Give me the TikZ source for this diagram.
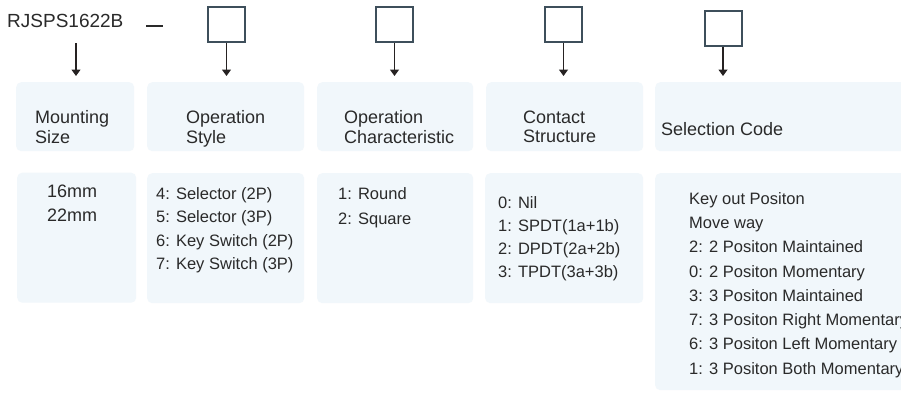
\documentclass[tikz,border=0pt]{standalone}
\usepackage{fontspec}
\setmainfont{Liberation Sans}
\usetikzlibrary{arrows.meta}
\definecolor{boxfill}{HTML}{F1F7FB}
\definecolor{sqcol}{HTML}{3E4F5B}
\definecolor{txt}{HTML}{2A2A2A}
\definecolor{arrcol}{HTML}{262222}
\tikzset{
  panel/.style={fill=boxfill, draw=none, rounded corners=5pt, anchor=north west, inner sep=0pt},
  sqbox/.style={draw=sqcol, line width=2pt, minimum width=37pt, minimum height=35pt, inner sep=0pt},
  arr/.style={draw=arrcol, line width=1.3pt, -{Triangle[width=9pt,length=6.5pt]}, shorten >=6pt},
  head/.style={anchor=north west, inner sep=0pt, align=left, text=txt, font=\fontsize{18}{19.5}\selectfont},
  body/.style={anchor=north west, inner sep=0pt, align=left, text=txt, font=\fontsize{16.5}{23.5}\selectfont},
}
\begin{document}
\begin{tikzpicture}[x=1pt,y=-1pt]
\clip (0,0) rectangle (901,399);
\fill[white] (0,0) rectangle (901,399);

% code line
\node[anchor=north west, inner sep=0pt, text=txt, font=\fontsize{19}{20}\selectfont] (code) at (7,14.5) {RJSPS1622B};
\draw[line width=2pt, draw=txt] (146,26) -- (163,26);
\node[sqbox] (s1) at (226.5,24.5) {};
\node[sqbox] (s2) at (394.5,24.5) {};
\node[sqbox] (s3) at (563.5,24.5) {};
\node[sqbox] (s4) at (723,28) {};

% header panels
\node[panel, minimum width=118pt, minimum height=69pt] (h1) at (16,82) {};
\node[panel, minimum width=157pt, minimum height=69pt] (h2) at (147,82) {};
\node[panel, minimum width=156pt, minimum height=69pt] (h3) at (317,82) {};
\node[panel, minimum width=157pt, minimum height=69pt] (h4) at (486,82) {};
\node[panel, minimum width=260pt, minimum height=69pt] (h5) at (655,82) {};

% body panels
\node[panel, minimum width=119pt, minimum height=130pt] (b1) at (17,172.5) {};
\node[panel, minimum width=157pt, minimum height=130pt] (b2) at (147,173) {};
\node[panel, minimum width=156pt, minimum height=130pt] (b3) at (317,173) {};
\node[panel, minimum width=158pt, minimum height=130pt] (b4) at (485,173) {};
\node[panel, minimum width=260pt, minimum height=217pt] (b5) at (655,173) {};

% arrows
\coordinate (a0) at (76,43);
\draw[arr] (a0) -- (a0 |- h1.north);
\draw[arr] (s1.south) -- (s1.south |- h2.north);
\draw[arr] (s2.south) -- (s2.south |- h3.north);
\draw[arr] (s3.south) -- (s3.south |- h4.north);
\draw[arr] (s4.south) -- (s4.south |- h5.north);

% header texts
\node[head] (t1) at (35,110.5) {Mounting\\Size};
\node[head] (t2) at (186,110.5) {Operation\\Style};
\node[head] (t3) at (344,110.5) {Operation\\Characteristic};
\node[head] (t4) at (523,110.5) {Contact\\Structure};
\node[head] (t5) at (661,122.5) {Selection Code};

% body texts
\node[body, font=\fontsize{18}{24}\selectfont] (c1) at (47,185) {16mm\\22mm};
\node[body] (c2) at (156,187) {4: Selector (2P)\\5: Selector (3P)\\6: Key Switch (2P)\\7: Key Switch (3P)};
\node[body, font=\fontsize{16.5}{25}\selectfont] (c3) at (338,187) {1: Round\\2: Square};
\node[body, font=\fontsize{16.5}{23}\selectfont] (c4) at (498,196) {0: Nil\\1: SPDT(1a+1b)\\2: DPDT(2a+2b)\\3: TPDT(3a+3b)};
\node[body, font=\fontsize{16.5}{24.3}\selectfont] (c5) at (689,192) {Key out Positon\\Move way\\2: 2 Positon Maintained\\0: 2 Positon Momentary\\3: 3 Positon Maintained\\7: 3 Positon Right Momentary\\6: 3 Positon Left Momentary\\1: 3 Positon Both Momentary};
\end{tikzpicture}
\end{document}
